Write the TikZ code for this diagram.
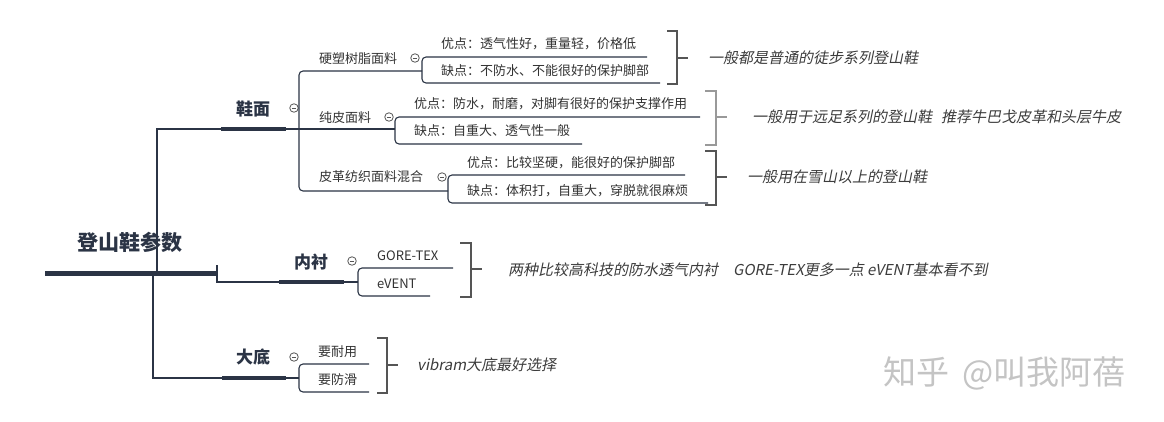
\documentclass[tikz,border=0pt]{standalone}
\usepackage{fontspec}
\setmainfont{Noto Sans CJK SC}
\newfontfamily\notefont[FakeSlant=0.2]{Noto Sans CJK SC}
\definecolor{ln}{HTML}{2B3445}
\definecolor{tx}{HTML}{333333}
\definecolor{nt}{HTML}{3C3C3C}
\definecolor{br}{HTML}{555555}
\definecolor{brl}{HTML}{999999}
\definecolor{wm}{HTML}{C4C4C4}
\begin{document}
\begin{tikzpicture}[x=1pt,y=-1pt,
  thinln/.style={draw=ln,line width=1.1pt,rounded corners=4pt},
  thickln/.style={draw=ln,line width=4pt},
  rootln/.style={draw=ln,line width=5pt},
  bracketln/.style={draw=br,line width=1.1pt},
  rootlbl/.style={inner sep=0,text=ln,font=\bfseries\fontsize{21}{24}\selectfont},
  brlbl/.style={inner sep=0,text=ln,font=\bfseries\fontsize{17}{20}\selectfont},
  chlbl/.style={inner sep=0,anchor=west,text=tx,font=\fontsize{13}{15}\selectfont},
  notelbl/.style={inner sep=0,anchor=west,text=nt,font=\notefont\fontsize{15}{18}\selectfont},
  collapse/.style={circle,draw=br,line width=0.8pt,minimum size=8.5pt,inner sep=0,
    path picture={\draw[br,line width=0.8pt] ([xshift=2pt]path picture bounding box.west) -- ([xshift=-2pt]path picture bounding box.east);}}
]
\useasboundingbox (0,0) rectangle (1164,421);
\fill[white] (0,0) rectangle (1164,421);

% ---------- root ----------
\node[rootlbl] (root) at (130,242) {登山鞋参数};
\coordinate (rootL) at (45,273);
\coordinate (rootR) at (217,273);
\draw[rootln] (rootL) -- (rootR);

% ---------- branch 鞋面 ----------
\node[brlbl] (xm) at (253,109) {鞋面};
\coordinate (xmL) at (221,129);
\coordinate (xmR) at (286,129);
\coordinate (xmV) at (157,273);
\draw[thickln] (xmL) -- (xmR);
\draw[thinln,rounded corners=0pt] (xmV) -- (157,129) -- (xmL);
\node[collapse] (xmk) at (294,108) {};

% children of 鞋面
\node[chlbl] (c1) at (319,59) {硬塑树脂面料};
\node[chlbl] (c2) at (319,118) {纯皮面料};
\node[chlbl] (c3) at (319,177) {皮革纺织面料混合};
\node[collapse] (c1k) at (415,58) {};
\node[collapse] (c2k) at (389,117) {};
\node[collapse] (c3k) at (442,177) {};
\coordinate (c1R) at (422,71);
\coordinate (c2R) at (395,129);
\coordinate (c3R) at (448,191);
\draw[thinln] (xmR) -- (299,129);
\draw[thinln] (c1R) -- (299,71) -- (299,191) -- (c3R);
\draw[thinln] (299,129) -- (c2R);

% grandchildren of 硬塑树脂面料
\node[chlbl] (g1a) at (441,44) {优点：透气性好，重量轻，价格低};
\node[chlbl] (g1b) at (441,71) {缺点：不防水、不能很好的保护脚部};
\draw[thinln] (647,57) -- (422,57) -- (422,83) -- (660,83);
% grandchildren of 纯皮面料
\node[chlbl] (g2a) at (414,104) {优点：防水，耐磨，对脚有很好的保护支撑作用};
\node[chlbl] (g2b) at (414,131) {缺点：自重大、透气性一般};
\draw[thinln] (700,117) -- (395,117) -- (395,144) -- (582,144);
% grandchildren of 皮革纺织面料混合
\node[chlbl] (g3a) at (467,163) {优点：比较坚硬，能很好的保护脚部};
\node[chlbl] (g3b) at (467,191) {缺点：体积打，自重大，穿脱就很麻烦};
\draw[thinln] (685,175) -- (448,175) -- (448,203) -- (708,203);

% notes for 鞋面
\draw[bracketln] (667,31) -- (677,31) -- (677,84) -- (667,84);
\draw[bracketln] (677,58) -- (688,58);
\node[notelbl] (n1) at (708,58) {一般都是普通的徒步系列登山鞋};
\draw[bracketln,draw=brl] (705,91) -- (716,91) -- (716,145) -- (705,145);
\draw[bracketln,draw=brl] (716,117) -- (727,117);
\node[notelbl] (n2) at (752,117) {一般用于远足系列的登山鞋\hspace{0.6em}推荐牛巴戈皮革和头层牛皮};
\draw[bracketln] (705,151) -- (716,151) -- (716,205) -- (705,205);
\draw[bracketln] (716,177) -- (727,177);
\node[notelbl] (n3) at (747,177) {一般用在雪山以上的登山鞋};

% ---------- branch 内衬 ----------
\node[brlbl] (nc) at (311,262) {内衬};
\coordinate (ncL) at (279,282);
\coordinate (ncR) at (344,282);
\draw[thickln] (ncL) -- (ncR);
\draw[thinln,rounded corners=0pt] (217,265) -- (217,282) -- (ncL);
\node[collapse] (nck) at (352,261) {};
\node[chlbl] (gt) at (377,256) {GORE-TEX};
\node[chlbl] (ev) at (377,284) {eVENT};
\draw[thinln] (ncR) -- (358,282);
\draw[thinln] (453,268) -- (358,268) -- (358,296) -- (430,296);
\draw[bracketln] (460,243) -- (471,243) -- (471,297) -- (460,297);
\draw[bracketln] (471,269) -- (482,269);
\node[notelbl] (n4) at (508,270) {两种比较高科技的防水透气内衬\hspace{1em}GORE-TEX更多一点 eVENT基本看不到};

% ---------- branch 大底 ----------
\node[brlbl] (dd) at (253,357) {大底};
\coordinate (ddL) at (222,378);
\coordinate (ddR) at (286,378);
\draw[thickln] (ddL) -- (ddR);
\draw[thinln,rounded corners=0pt] (153,273) -- (153,378) -- (ddL);
\node[collapse] (ddk) at (294,357) {};
\node[chlbl] (d1) at (318,352) {要耐用};
\node[chlbl] (d2) at (318,380) {要防滑};
\draw[thinln] (ddR) -- (299,378);
\draw[thinln] (369,364) -- (299,364) -- (299,392) -- (369,392);
\draw[bracketln] (377,338) -- (387,338) -- (387,393) -- (377,393);
\draw[bracketln] (387,365) -- (398,365);
\node[notelbl] (n5) at (417,365) {vibram大底最好选择};

% ---------- watermark ----------
\node[inner sep=0,anchor=west,text=wm,font=\fontsize{33}{36}\selectfont] (wmk) at (883,373) {知乎\hspace{0.4em}@叫我阿蓓};
\end{tikzpicture}
\end{document}
